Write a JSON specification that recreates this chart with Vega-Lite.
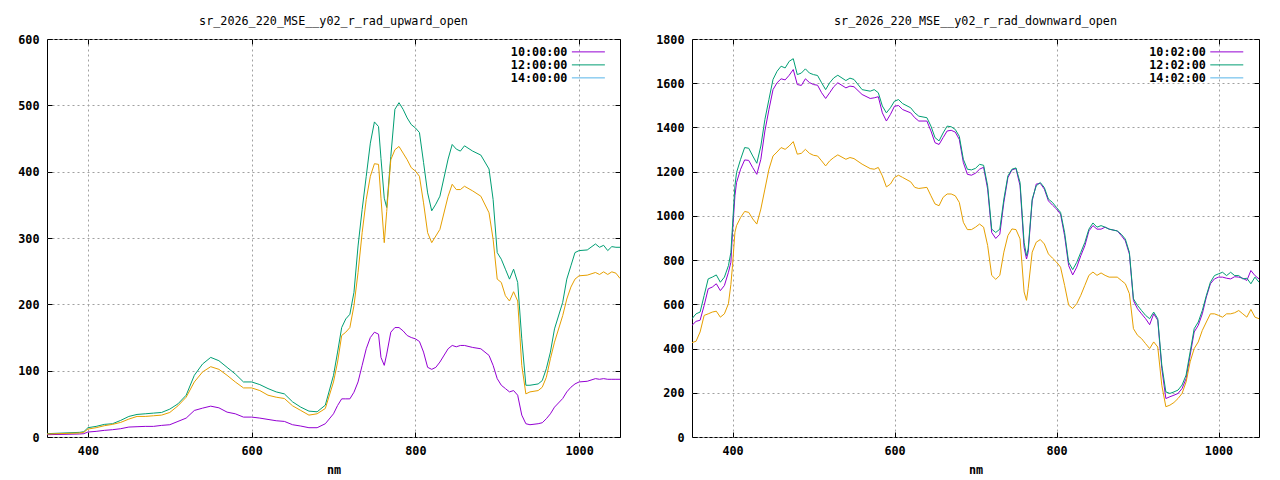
{
  "$schema": "https://vega.github.io/schema/vega-lite/v6.json",
  "padding": {"left": 17, "top": 15, "right": 5, "bottom": 4},
  "spacing": 31,
  "datasets": {
    "up": [
      {"s":"10:00:00","x":350,"y":3.5},{"s":"10:00:00","x":390,"y":4.5},{"s":"10:00:00","x":395,"y":5},{"s":"10:00:00","x":400,"y":7.5},{"s":"10:00:00","x":410,"y":8.5},{"s":"10:00:00","x":420,"y":10},{"s":"10:00:00","x":430,"y":11},{"s":"10:00:00","x":440,"y":12.5},{"s":"10:00:00","x":450,"y":15},{"s":"10:00:00","x":460,"y":15.5},{"s":"10:00:00","x":470,"y":16},{"s":"10:00:00","x":480,"y":16},{"s":"10:00:00","x":490,"y":17.5},{"s":"10:00:00","x":500,"y":18.5},{"s":"10:00:00","x":510,"y":23.5},{"s":"10:00:00","x":520,"y":28.5},{"s":"10:00:00","x":530,"y":40},{"s":"10:00:00","x":540,"y":43.5},{"s":"10:00:00","x":550,"y":46.5},{"s":"10:00:00","x":560,"y":44},{"s":"10:00:00","x":570,"y":37.5},{"s":"10:00:00","x":580,"y":35},{"s":"10:00:00","x":590,"y":30},{"s":"10:00:00","x":600,"y":30},{"s":"10:00:00","x":610,"y":28.5},{"s":"10:00:00","x":620,"y":26.5},{"s":"10:00:00","x":630,"y":24.5},{"s":"10:00:00","x":640,"y":23.5},{"s":"10:00:00","x":650,"y":18.5},{"s":"10:00:00","x":660,"y":16.5},{"s":"10:00:00","x":670,"y":14},{"s":"10:00:00","x":680,"y":14},{"s":"10:00:00","x":690,"y":20},{"s":"10:00:00","x":700,"y":35},{"s":"10:00:00","x":705,"y":47.5},{"s":"10:00:00","x":710,"y":57.5},{"s":"10:00:00","x":715,"y":57.5},{"s":"10:00:00","x":720,"y":57.5},{"s":"10:00:00","x":725,"y":67.5},{"s":"10:00:00","x":730,"y":83},{"s":"10:00:00","x":735,"y":108},{"s":"10:00:00","x":740,"y":133},{"s":"10:00:00","x":745,"y":150},{"s":"10:00:00","x":750,"y":158},{"s":"10:00:00","x":755,"y":155},{"s":"10:00:00","x":758,"y":120},{"s":"10:00:00","x":762,"y":108},{"s":"10:00:00","x":765,"y":125},{"s":"10:00:00","x":770,"y":158},{"s":"10:00:00","x":775,"y":165},{"s":"10:00:00","x":780,"y":165},{"s":"10:00:00","x":785,"y":160},{"s":"10:00:00","x":790,"y":153},{"s":"10:00:00","x":795,"y":150},{"s":"10:00:00","x":800,"y":148},{"s":"10:00:00","x":805,"y":144},{"s":"10:00:00","x":810,"y":128},{"s":"10:00:00","x":815,"y":105},{"s":"10:00:00","x":820,"y":102},{"s":"10:00:00","x":825,"y":105},{"s":"10:00:00","x":830,"y":113},{"s":"10:00:00","x":840,"y":133},{"s":"10:00:00","x":845,"y":138},{"s":"10:00:00","x":850,"y":136},{"s":"10:00:00","x":855,"y":138},{"s":"10:00:00","x":860,"y":138},{"s":"10:00:00","x":870,"y":135},{"s":"10:00:00","x":880,"y":133},{"s":"10:00:00","x":890,"y":123},{"s":"10:00:00","x":895,"y":108},{"s":"10:00:00","x":900,"y":88},{"s":"10:00:00","x":905,"y":78},{"s":"10:00:00","x":910,"y":73},{"s":"10:00:00","x":915,"y":68},{"s":"10:00:00","x":920,"y":70},{"s":"10:00:00","x":925,"y":63},{"s":"10:00:00","x":930,"y":33},{"s":"10:00:00","x":935,"y":20},{"s":"10:00:00","x":940,"y":18.5},{"s":"10:00:00","x":950,"y":20},{"s":"10:00:00","x":955,"y":21.5},{"s":"10:00:00","x":960,"y":27.5},{"s":"10:00:00","x":965,"y":35},{"s":"10:00:00","x":970,"y":45},{"s":"10:00:00","x":980,"y":58},{"s":"10:00:00","x":985,"y":68},{"s":"10:00:00","x":990,"y":75},{"s":"10:00:00","x":995,"y":80},{"s":"10:00:00","x":1000,"y":83},{"s":"10:00:00","x":1010,"y":84},{"s":"10:00:00","x":1020,"y":88},{"s":"10:00:00","x":1025,"y":87},{"s":"10:00:00","x":1030,"y":88},{"s":"10:00:00","x":1035,"y":87},{"s":"10:00:00","x":1040,"y":87},{"s":"10:00:00","x":1045,"y":87},{"s":"10:00:00","x":1050,"y":87},
      {"s":"12:00:00","x":350,"y":5},{"s":"12:00:00","x":390,"y":7},{"s":"12:00:00","x":395,"y":8},{"s":"12:00:00","x":400,"y":14},{"s":"12:00:00","x":410,"y":16},{"s":"12:00:00","x":420,"y":19},{"s":"12:00:00","x":430,"y":20},{"s":"12:00:00","x":440,"y":25},{"s":"12:00:00","x":450,"y":31},{"s":"12:00:00","x":460,"y":34},{"s":"12:00:00","x":470,"y":35},{"s":"12:00:00","x":480,"y":36},{"s":"12:00:00","x":490,"y":37},{"s":"12:00:00","x":500,"y":42},{"s":"12:00:00","x":510,"y":50},{"s":"12:00:00","x":520,"y":63},{"s":"12:00:00","x":530,"y":93},{"s":"12:00:00","x":540,"y":110},{"s":"12:00:00","x":550,"y":120},{"s":"12:00:00","x":560,"y":115},{"s":"12:00:00","x":570,"y":105},{"s":"12:00:00","x":580,"y":95},{"s":"12:00:00","x":590,"y":83},{"s":"12:00:00","x":600,"y":83},{"s":"12:00:00","x":610,"y":79},{"s":"12:00:00","x":620,"y":73},{"s":"12:00:00","x":630,"y":68},{"s":"12:00:00","x":640,"y":65},{"s":"12:00:00","x":650,"y":53},{"s":"12:00:00","x":660,"y":45},{"s":"12:00:00","x":670,"y":39},{"s":"12:00:00","x":680,"y":38},{"s":"12:00:00","x":690,"y":48},{"s":"12:00:00","x":700,"y":93},{"s":"12:00:00","x":705,"y":128},{"s":"12:00:00","x":710,"y":165},{"s":"12:00:00","x":715,"y":178},{"s":"12:00:00","x":720,"y":185},{"s":"12:00:00","x":725,"y":218},{"s":"12:00:00","x":730,"y":288},{"s":"12:00:00","x":735,"y":343},{"s":"12:00:00","x":740,"y":393},{"s":"12:00:00","x":745,"y":443},{"s":"12:00:00","x":750,"y":475},{"s":"12:00:00","x":755,"y":468},{"s":"12:00:00","x":758,"y":420},{"s":"12:00:00","x":762,"y":360},{"s":"12:00:00","x":765,"y":346},{"s":"12:00:00","x":770,"y":423},{"s":"12:00:00","x":775,"y":494},{"s":"12:00:00","x":780,"y":504},{"s":"12:00:00","x":785,"y":494},{"s":"12:00:00","x":790,"y":481},{"s":"12:00:00","x":795,"y":471},{"s":"12:00:00","x":800,"y":466},{"s":"12:00:00","x":805,"y":459},{"s":"12:00:00","x":810,"y":414},{"s":"12:00:00","x":815,"y":368},{"s":"12:00:00","x":820,"y":341},{"s":"12:00:00","x":825,"y":351},{"s":"12:00:00","x":830,"y":363},{"s":"12:00:00","x":840,"y":419},{"s":"12:00:00","x":845,"y":441},{"s":"12:00:00","x":850,"y":434},{"s":"12:00:00","x":855,"y":431},{"s":"12:00:00","x":860,"y":439},{"s":"12:00:00","x":870,"y":431},{"s":"12:00:00","x":880,"y":425},{"s":"12:00:00","x":890,"y":404},{"s":"12:00:00","x":895,"y":358},{"s":"12:00:00","x":900,"y":278},{"s":"12:00:00","x":905,"y":268},{"s":"12:00:00","x":910,"y":253},{"s":"12:00:00","x":915,"y":238},{"s":"12:00:00","x":920,"y":253},{"s":"12:00:00","x":925,"y":233},{"s":"12:00:00","x":930,"y":148},{"s":"12:00:00","x":935,"y":78},{"s":"12:00:00","x":940,"y":78},{"s":"12:00:00","x":950,"y":80},{"s":"12:00:00","x":955,"y":85},{"s":"12:00:00","x":960,"y":103},{"s":"12:00:00","x":965,"y":128},{"s":"12:00:00","x":970,"y":163},{"s":"12:00:00","x":980,"y":203},{"s":"12:00:00","x":985,"y":238},{"s":"12:00:00","x":990,"y":258},{"s":"12:00:00","x":995,"y":278},{"s":"12:00:00","x":1000,"y":281},{"s":"12:00:00","x":1010,"y":282},{"s":"12:00:00","x":1020,"y":291},{"s":"12:00:00","x":1025,"y":286},{"s":"12:00:00","x":1030,"y":289},{"s":"12:00:00","x":1035,"y":281},{"s":"12:00:00","x":1040,"y":287},{"s":"12:00:00","x":1045,"y":286},{"s":"12:00:00","x":1050,"y":286},
      {"s":"4","x":350,"y":4.5},{"s":"4","x":390,"y":6},{"s":"4","x":395,"y":7},{"s":"4","x":400,"y":12},{"s":"4","x":410,"y":14},{"s":"4","x":420,"y":17},{"s":"4","x":430,"y":19},{"s":"4","x":440,"y":22},{"s":"4","x":450,"y":27},{"s":"4","x":460,"y":31},{"s":"4","x":470,"y":31},{"s":"4","x":480,"y":32},{"s":"4","x":490,"y":33},{"s":"4","x":500,"y":37},{"s":"4","x":510,"y":47},{"s":"4","x":520,"y":60},{"s":"4","x":530,"y":83},{"s":"4","x":540,"y":98},{"s":"4","x":550,"y":106},{"s":"4","x":560,"y":102},{"s":"4","x":570,"y":93},{"s":"4","x":580,"y":83},{"s":"4","x":590,"y":74},{"s":"4","x":600,"y":74},{"s":"4","x":610,"y":70},{"s":"4","x":620,"y":63},{"s":"4","x":630,"y":60},{"s":"4","x":640,"y":58},{"s":"4","x":650,"y":47},{"s":"4","x":660,"y":40},{"s":"4","x":670,"y":33},{"s":"4","x":680,"y":35},{"s":"4","x":690,"y":43},{"s":"4","x":700,"y":83},{"s":"4","x":705,"y":113},{"s":"4","x":710,"y":153},{"s":"4","x":715,"y":158},{"s":"4","x":720,"y":165},{"s":"4","x":725,"y":198},{"s":"4","x":730,"y":248},{"s":"4","x":735,"y":308},{"s":"4","x":740,"y":358},{"s":"4","x":745,"y":393},{"s":"4","x":750,"y":412},{"s":"4","x":755,"y":411},{"s":"4","x":758,"y":360},{"s":"4","x":762,"y":293},{"s":"4","x":765,"y":340},{"s":"4","x":770,"y":418},{"s":"4","x":775,"y":433},{"s":"4","x":780,"y":438},{"s":"4","x":785,"y":428},{"s":"4","x":790,"y":418},{"s":"4","x":795,"y":406},{"s":"4","x":800,"y":401},{"s":"4","x":805,"y":393},{"s":"4","x":810,"y":353},{"s":"4","x":815,"y":308},{"s":"4","x":820,"y":293},{"s":"4","x":825,"y":303},{"s":"4","x":830,"y":313},{"s":"4","x":840,"y":363},{"s":"4","x":845,"y":381},{"s":"4","x":850,"y":373},{"s":"4","x":855,"y":373},{"s":"4","x":860,"y":378},{"s":"4","x":870,"y":371},{"s":"4","x":880,"y":363},{"s":"4","x":890,"y":338},{"s":"4","x":895,"y":298},{"s":"4","x":900,"y":238},{"s":"4","x":905,"y":233},{"s":"4","x":910,"y":213},{"s":"4","x":915,"y":205},{"s":"4","x":920,"y":219},{"s":"4","x":925,"y":205},{"s":"4","x":930,"y":108},{"s":"4","x":935,"y":65},{"s":"4","x":940,"y":68},{"s":"4","x":950,"y":70},{"s":"4","x":955,"y":75},{"s":"4","x":960,"y":90},{"s":"4","x":965,"y":118},{"s":"4","x":970,"y":143},{"s":"4","x":980,"y":183},{"s":"4","x":985,"y":208},{"s":"4","x":990,"y":226},{"s":"4","x":995,"y":238},{"s":"4","x":1000,"y":243},{"s":"4","x":1010,"y":244},{"s":"4","x":1020,"y":248},{"s":"4","x":1025,"y":245},{"s":"4","x":1030,"y":249},{"s":"4","x":1035,"y":245},{"s":"4","x":1040,"y":249},{"s":"4","x":1045,"y":247},{"s":"4","x":1050,"y":239}
    ],
    "down": [
      {"s":"10:02:00","x":350,"y":505},{"s":"10:02:00","x":355,"y":523},{"s":"10:02:00","x":360,"y":528},{"s":"10:02:00","x":365,"y":595},{"s":"10:02:00","x":370,"y":670},{"s":"10:02:00","x":375,"y":678},{"s":"10:02:00","x":380,"y":693},{"s":"10:02:00","x":385,"y":662},{"s":"10:02:00","x":390,"y":685},{"s":"10:02:00","x":395,"y":745},{"s":"10:02:00","x":398,"y":790},{"s":"10:02:00","x":400,"y":925},{"s":"10:02:00","x":403,"y":1091},{"s":"10:02:00","x":405,"y":1151},{"s":"10:02:00","x":410,"y":1211},{"s":"10:02:00","x":415,"y":1253},{"s":"10:02:00","x":420,"y":1251},{"s":"10:02:00","x":425,"y":1218},{"s":"10:02:00","x":430,"y":1188},{"s":"10:02:00","x":435,"y":1256},{"s":"10:02:00","x":440,"y":1384},{"s":"10:02:00","x":445,"y":1481},{"s":"10:02:00","x":450,"y":1571},{"s":"10:02:00","x":455,"y":1602},{"s":"10:02:00","x":460,"y":1620},{"s":"10:02:00","x":465,"y":1615},{"s":"10:02:00","x":470,"y":1636},{"s":"10:02:00","x":475,"y":1662},{"s":"10:02:00","x":480,"y":1594},{"s":"10:02:00","x":485,"y":1590},{"s":"10:02:00","x":490,"y":1620},{"s":"10:02:00","x":495,"y":1603},{"s":"10:02:00","x":500,"y":1594},{"s":"10:02:00","x":505,"y":1591},{"s":"10:02:00","x":510,"y":1557},{"s":"10:02:00","x":515,"y":1531},{"s":"10:02:00","x":520,"y":1557},{"s":"10:02:00","x":525,"y":1584},{"s":"10:02:00","x":530,"y":1602},{"s":"10:02:00","x":540,"y":1579},{"s":"10:02:00","x":545,"y":1587},{"s":"10:02:00","x":550,"y":1584},{"s":"10:02:00","x":560,"y":1549},{"s":"10:02:00","x":570,"y":1531},{"s":"10:02:00","x":575,"y":1534},{"s":"10:02:00","x":580,"y":1539},{"s":"10:02:00","x":585,"y":1466},{"s":"10:02:00","x":590,"y":1429},{"s":"10:02:00","x":595,"y":1459},{"s":"10:02:00","x":600,"y":1496},{"s":"10:02:00","x":605,"y":1499},{"s":"10:02:00","x":610,"y":1481},{"s":"10:02:00","x":620,"y":1466},{"s":"10:02:00","x":625,"y":1444},{"s":"10:02:00","x":630,"y":1429},{"s":"10:02:00","x":640,"y":1429},{"s":"10:02:00","x":645,"y":1384},{"s":"10:02:00","x":650,"y":1331},{"s":"10:02:00","x":655,"y":1323},{"s":"10:02:00","x":660,"y":1354},{"s":"10:02:00","x":665,"y":1384},{"s":"10:02:00","x":670,"y":1387},{"s":"10:02:00","x":675,"y":1379},{"s":"10:02:00","x":680,"y":1346},{"s":"10:02:00","x":685,"y":1241},{"s":"10:02:00","x":690,"y":1188},{"s":"10:02:00","x":695,"y":1184},{"s":"10:02:00","x":700,"y":1193},{"s":"10:02:00","x":705,"y":1211},{"s":"10:02:00","x":710,"y":1220},{"s":"10:02:00","x":715,"y":1121},{"s":"10:02:00","x":720,"y":925},{"s":"10:02:00","x":725,"y":898},{"s":"10:02:00","x":730,"y":917},{"s":"10:02:00","x":735,"y":1061},{"s":"10:02:00","x":740,"y":1173},{"s":"10:02:00","x":745,"y":1208},{"s":"10:02:00","x":750,"y":1214},{"s":"10:02:00","x":755,"y":1136},{"s":"10:02:00","x":760,"y":857},{"s":"10:02:00","x":763,"y":805},{"s":"10:02:00","x":765,"y":835},{"s":"10:02:00","x":770,"y":1068},{"s":"10:02:00","x":775,"y":1144},{"s":"10:02:00","x":780,"y":1147},{"s":"10:02:00","x":785,"y":1121},{"s":"10:02:00","x":790,"y":1068},{"s":"10:02:00","x":795,"y":1049},{"s":"10:02:00","x":800,"y":1031},{"s":"10:02:00","x":805,"y":1008},{"s":"10:02:00","x":810,"y":910},{"s":"10:02:00","x":815,"y":775},{"s":"10:02:00","x":820,"y":733},{"s":"10:02:00","x":825,"y":768},{"s":"10:02:00","x":830,"y":820},{"s":"10:02:00","x":835,"y":865},{"s":"10:02:00","x":840,"y":932},{"s":"10:02:00","x":845,"y":956},{"s":"10:02:00","x":850,"y":940},{"s":"10:02:00","x":855,"y":940},{"s":"10:02:00","x":860,"y":949},{"s":"10:02:00","x":865,"y":940},{"s":"10:02:00","x":875,"y":932},{"s":"10:02:00","x":880,"y":911},{"s":"10:02:00","x":885,"y":887},{"s":"10:02:00","x":890,"y":827},{"s":"10:02:00","x":895,"y":617},{"s":"10:02:00","x":900,"y":580},{"s":"10:02:00","x":905,"y":557},{"s":"10:02:00","x":910,"y":535},{"s":"10:02:00","x":915,"y":508},{"s":"10:02:00","x":920,"y":557},{"s":"10:02:00","x":925,"y":528},{"s":"10:02:00","x":930,"y":310},{"s":"10:02:00","x":935,"y":174},{"s":"10:02:00","x":940,"y":182},{"s":"10:02:00","x":945,"y":189},{"s":"10:02:00","x":950,"y":197},{"s":"10:02:00","x":955,"y":219},{"s":"10:02:00","x":960,"y":264},{"s":"10:02:00","x":965,"y":370},{"s":"10:02:00","x":970,"y":475},{"s":"10:02:00","x":975,"y":505},{"s":"10:02:00","x":980,"y":557},{"s":"10:02:00","x":985,"y":633},{"s":"10:02:00","x":990,"y":693},{"s":"10:02:00","x":995,"y":715},{"s":"10:02:00","x":1000,"y":723},{"s":"10:02:00","x":1005,"y":723},{"s":"10:02:00","x":1010,"y":718},{"s":"10:02:00","x":1015,"y":715},{"s":"10:02:00","x":1020,"y":725},{"s":"10:02:00","x":1025,"y":723},{"s":"10:02:00","x":1030,"y":718},{"s":"10:02:00","x":1035,"y":708},{"s":"10:02:00","x":1040,"y":753},{"s":"10:02:00","x":1045,"y":730},{"s":"10:02:00","x":1050,"y":715},
      {"s":"12:02:00","x":350,"y":535},{"s":"12:02:00","x":355,"y":557},{"s":"12:02:00","x":360,"y":565},{"s":"12:02:00","x":365,"y":640},{"s":"12:02:00","x":370,"y":715},{"s":"12:02:00","x":375,"y":723},{"s":"12:02:00","x":380,"y":733},{"s":"12:02:00","x":385,"y":700},{"s":"12:02:00","x":390,"y":723},{"s":"12:02:00","x":395,"y":775},{"s":"12:02:00","x":398,"y":835},{"s":"12:02:00","x":400,"y":955},{"s":"12:02:00","x":403,"y":1136},{"s":"12:02:00","x":405,"y":1196},{"s":"12:02:00","x":410,"y":1256},{"s":"12:02:00","x":415,"y":1309},{"s":"12:02:00","x":420,"y":1306},{"s":"12:02:00","x":425,"y":1271},{"s":"12:02:00","x":430,"y":1238},{"s":"12:02:00","x":435,"y":1316},{"s":"12:02:00","x":440,"y":1436},{"s":"12:02:00","x":445,"y":1527},{"s":"12:02:00","x":450,"y":1617},{"s":"12:02:00","x":455,"y":1654},{"s":"12:02:00","x":460,"y":1677},{"s":"12:02:00","x":465,"y":1669},{"s":"12:02:00","x":470,"y":1699},{"s":"12:02:00","x":475,"y":1711},{"s":"12:02:00","x":480,"y":1639},{"s":"12:02:00","x":485,"y":1646},{"s":"12:02:00","x":490,"y":1665},{"s":"12:02:00","x":495,"y":1646},{"s":"12:02:00","x":500,"y":1639},{"s":"12:02:00","x":505,"y":1635},{"s":"12:02:00","x":510,"y":1602},{"s":"12:02:00","x":515,"y":1571},{"s":"12:02:00","x":520,"y":1602},{"s":"12:02:00","x":525,"y":1624},{"s":"12:02:00","x":530,"y":1636},{"s":"12:02:00","x":540,"y":1612},{"s":"12:02:00","x":545,"y":1623},{"s":"12:02:00","x":550,"y":1617},{"s":"12:02:00","x":560,"y":1571},{"s":"12:02:00","x":570,"y":1564},{"s":"12:02:00","x":575,"y":1571},{"s":"12:02:00","x":580,"y":1557},{"s":"12:02:00","x":585,"y":1497},{"s":"12:02:00","x":590,"y":1466},{"s":"12:02:00","x":595,"y":1489},{"s":"12:02:00","x":600,"y":1519},{"s":"12:02:00","x":605,"y":1526},{"s":"12:02:00","x":610,"y":1508},{"s":"12:02:00","x":620,"y":1489},{"s":"12:02:00","x":625,"y":1466},{"s":"12:02:00","x":630,"y":1451},{"s":"12:02:00","x":640,"y":1444},{"s":"12:02:00","x":645,"y":1406},{"s":"12:02:00","x":650,"y":1354},{"s":"12:02:00","x":655,"y":1339},{"s":"12:02:00","x":660,"y":1375},{"s":"12:02:00","x":665,"y":1406},{"s":"12:02:00","x":670,"y":1403},{"s":"12:02:00","x":675,"y":1391},{"s":"12:02:00","x":680,"y":1360},{"s":"12:02:00","x":685,"y":1256},{"s":"12:02:00","x":690,"y":1211},{"s":"12:02:00","x":695,"y":1208},{"s":"12:02:00","x":700,"y":1215},{"s":"12:02:00","x":705,"y":1233},{"s":"12:02:00","x":710,"y":1229},{"s":"12:02:00","x":715,"y":1136},{"s":"12:02:00","x":720,"y":940},{"s":"12:02:00","x":725,"y":925},{"s":"12:02:00","x":730,"y":940},{"s":"12:02:00","x":735,"y":1076},{"s":"12:02:00","x":740,"y":1181},{"s":"12:02:00","x":745,"y":1211},{"s":"12:02:00","x":750,"y":1217},{"s":"12:02:00","x":755,"y":1151},{"s":"12:02:00","x":760,"y":880},{"s":"12:02:00","x":763,"y":820},{"s":"12:02:00","x":765,"y":850},{"s":"12:02:00","x":770,"y":1076},{"s":"12:02:00","x":775,"y":1136},{"s":"12:02:00","x":780,"y":1151},{"s":"12:02:00","x":785,"y":1128},{"s":"12:02:00","x":790,"y":1076},{"s":"12:02:00","x":795,"y":1061},{"s":"12:02:00","x":800,"y":1038},{"s":"12:02:00","x":805,"y":1016},{"s":"12:02:00","x":810,"y":925},{"s":"12:02:00","x":815,"y":790},{"s":"12:02:00","x":820,"y":757},{"s":"12:02:00","x":825,"y":790},{"s":"12:02:00","x":830,"y":835},{"s":"12:02:00","x":835,"y":880},{"s":"12:02:00","x":840,"y":940},{"s":"12:02:00","x":845,"y":968},{"s":"12:02:00","x":850,"y":949},{"s":"12:02:00","x":855,"y":956},{"s":"12:02:00","x":860,"y":949},{"s":"12:02:00","x":865,"y":940},{"s":"12:02:00","x":875,"y":932},{"s":"12:02:00","x":880,"y":917},{"s":"12:02:00","x":885,"y":895},{"s":"12:02:00","x":890,"y":835},{"s":"12:02:00","x":895,"y":625},{"s":"12:02:00","x":900,"y":595},{"s":"12:02:00","x":905,"y":572},{"s":"12:02:00","x":910,"y":550},{"s":"12:02:00","x":915,"y":535},{"s":"12:02:00","x":920,"y":565},{"s":"12:02:00","x":925,"y":535},{"s":"12:02:00","x":930,"y":325},{"s":"12:02:00","x":935,"y":204},{"s":"12:02:00","x":940,"y":197},{"s":"12:02:00","x":945,"y":204},{"s":"12:02:00","x":950,"y":212},{"s":"12:02:00","x":955,"y":235},{"s":"12:02:00","x":960,"y":280},{"s":"12:02:00","x":965,"y":385},{"s":"12:02:00","x":970,"y":490},{"s":"12:02:00","x":975,"y":520},{"s":"12:02:00","x":980,"y":572},{"s":"12:02:00","x":985,"y":640},{"s":"12:02:00","x":990,"y":700},{"s":"12:02:00","x":995,"y":730},{"s":"12:02:00","x":1000,"y":738},{"s":"12:02:00","x":1005,"y":745},{"s":"12:02:00","x":1010,"y":730},{"s":"12:02:00","x":1015,"y":745},{"s":"12:02:00","x":1020,"y":730},{"s":"12:02:00","x":1025,"y":730},{"s":"12:02:00","x":1030,"y":715},{"s":"12:02:00","x":1035,"y":718},{"s":"12:02:00","x":1040,"y":693},{"s":"12:02:00","x":1045,"y":723},{"s":"12:02:00","x":1050,"y":700},
      {"s":"4","x":350,"y":427},{"s":"4","x":355,"y":433},{"s":"4","x":360,"y":475},{"s":"4","x":365,"y":550},{"s":"4","x":370,"y":557},{"s":"4","x":375,"y":565},{"s":"4","x":380,"y":569},{"s":"4","x":385,"y":542},{"s":"4","x":390,"y":557},{"s":"4","x":395,"y":603},{"s":"4","x":398,"y":690},{"s":"4","x":400,"y":775},{"s":"4","x":403,"y":926},{"s":"4","x":405,"y":956},{"s":"4","x":410,"y":993},{"s":"4","x":415,"y":1020},{"s":"4","x":420,"y":1016},{"s":"4","x":425,"y":986},{"s":"4","x":430,"y":963},{"s":"4","x":435,"y":1031},{"s":"4","x":440,"y":1121},{"s":"4","x":445,"y":1211},{"s":"4","x":450,"y":1271},{"s":"4","x":455,"y":1289},{"s":"4","x":460,"y":1309},{"s":"4","x":465,"y":1301},{"s":"4","x":470,"y":1316},{"s":"4","x":475,"y":1336},{"s":"4","x":480,"y":1279},{"s":"4","x":485,"y":1283},{"s":"4","x":490,"y":1301},{"s":"4","x":495,"y":1283},{"s":"4","x":500,"y":1274},{"s":"4","x":505,"y":1271},{"s":"4","x":510,"y":1249},{"s":"4","x":515,"y":1226},{"s":"4","x":520,"y":1249},{"s":"4","x":525,"y":1264},{"s":"4","x":530,"y":1276},{"s":"4","x":540,"y":1256},{"s":"4","x":545,"y":1264},{"s":"4","x":550,"y":1259},{"s":"4","x":560,"y":1234},{"s":"4","x":570,"y":1214},{"s":"4","x":575,"y":1211},{"s":"4","x":580,"y":1219},{"s":"4","x":585,"y":1181},{"s":"4","x":590,"y":1131},{"s":"4","x":595,"y":1144},{"s":"4","x":600,"y":1174},{"s":"4","x":605,"y":1184},{"s":"4","x":610,"y":1174},{"s":"4","x":620,"y":1154},{"s":"4","x":625,"y":1129},{"s":"4","x":630,"y":1124},{"s":"4","x":640,"y":1129},{"s":"4","x":645,"y":1091},{"s":"4","x":650,"y":1054},{"s":"4","x":655,"y":1046},{"s":"4","x":660,"y":1084},{"s":"4","x":665,"y":1099},{"s":"4","x":670,"y":1099},{"s":"4","x":675,"y":1091},{"s":"4","x":680,"y":1061},{"s":"4","x":685,"y":971},{"s":"4","x":690,"y":938},{"s":"4","x":695,"y":938},{"s":"4","x":700,"y":949},{"s":"4","x":705,"y":963},{"s":"4","x":710,"y":949},{"s":"4","x":715,"y":866},{"s":"4","x":720,"y":731},{"s":"4","x":725,"y":713},{"s":"4","x":730,"y":731},{"s":"4","x":735,"y":836},{"s":"4","x":740,"y":911},{"s":"4","x":745,"y":941},{"s":"4","x":750,"y":938},{"s":"4","x":755,"y":896},{"s":"4","x":760,"y":656},{"s":"4","x":763,"y":618},{"s":"4","x":765,"y":671},{"s":"4","x":770,"y":836},{"s":"4","x":775,"y":881},{"s":"4","x":780,"y":893},{"s":"4","x":785,"y":873},{"s":"4","x":790,"y":828},{"s":"4","x":795,"y":809},{"s":"4","x":800,"y":791},{"s":"4","x":805,"y":768},{"s":"4","x":810,"y":686},{"s":"4","x":815,"y":596},{"s":"4","x":820,"y":581},{"s":"4","x":825,"y":603},{"s":"4","x":830,"y":641},{"s":"4","x":835,"y":686},{"s":"4","x":840,"y":731},{"s":"4","x":845,"y":746},{"s":"4","x":850,"y":731},{"s":"4","x":855,"y":742},{"s":"4","x":860,"y":731},{"s":"4","x":865,"y":723},{"s":"4","x":875,"y":723},{"s":"4","x":880,"y":708},{"s":"4","x":885,"y":693},{"s":"4","x":890,"y":648},{"s":"4","x":895,"y":490},{"s":"4","x":900,"y":460},{"s":"4","x":905,"y":445},{"s":"4","x":910,"y":422},{"s":"4","x":915,"y":400},{"s":"4","x":920,"y":430},{"s":"4","x":925,"y":407},{"s":"4","x":930,"y":234},{"s":"4","x":935,"y":137},{"s":"4","x":940,"y":144},{"s":"4","x":945,"y":156},{"s":"4","x":950,"y":174},{"s":"4","x":955,"y":197},{"s":"4","x":960,"y":249},{"s":"4","x":965,"y":340},{"s":"4","x":970,"y":400},{"s":"4","x":975,"y":430},{"s":"4","x":980,"y":482},{"s":"4","x":985,"y":520},{"s":"4","x":990,"y":557},{"s":"4","x":995,"y":557},{"s":"4","x":1000,"y":550},{"s":"4","x":1005,"y":542},{"s":"4","x":1010,"y":557},{"s":"4","x":1015,"y":557},{"s":"4","x":1020,"y":562},{"s":"4","x":1025,"y":572},{"s":"4","x":1030,"y":557},{"s":"4","x":1035,"y":542},{"s":"4","x":1040,"y":577},{"s":"4","x":1045,"y":542},{"s":"4","x":1050,"y":535}
    ]
  },
  "hconcat": [
    {
      "data": {"name": "up"},
      "width": 573,
      "height": 398,
      "title": "sr_2026_220_MSE__y02_r_rad_upward_open",
      "resolve": {"axis": {"x": "independent", "y": "independent"}},
      "layer": [
        {
          "mark": {"type": "line", "strokeWidth": 1, "clip": true},
          "encoding": {
            "x": {
              "field": "x", "type": "quantitative", "title": "nm",
              "scale": {"domain": [350, 1050], "nice": false, "zero": false},
              "axis": {"orient": "bottom", "values": [400, 600, 800, 1000]}
            },
            "y": {
              "field": "y", "type": "quantitative", "title": null,
              "scale": {"domain": [0, 600], "nice": false},
              "axis": {"orient": "left", "values": [0, 100, 200, 300, 400, 500, 600]}
            },
            "color": {
              "field": "s", "type": "nominal",
              "scale": {
                "domain": ["10:00:00", "12:00:00", "14:00:00", "4"],
                "range": ["#9400d3", "#009e73", "#56b4e9", "#e69f00"]
              },
              "legend": {"values": ["10:00:00", "12:00:00", "14:00:00"], "legendX": 552}
            }
          }
        },
        {
          "mark": {"type": "point", "opacity": 0},
          "encoding": {
            "x": {
              "field": "x", "type": "quantitative", "title": null,
              "scale": {"domain": [350, 1050], "nice": false, "zero": false},
              "axis": {"orient": "top", "values": [400, 600, 800, 1000], "labels": false, "grid": false, "minExtent": 0, "maxExtent": 0}
            },
            "y": {
              "field": "y", "type": "quantitative", "title": null,
              "scale": {"domain": [0, 600], "nice": false},
              "axis": {"orient": "right", "values": [0, 100, 200, 300, 400, 500, 600], "labels": false, "grid": false, "minExtent": 0, "maxExtent": 0}
            }
          }
        }
      ]
    },
    {
      "data": {"name": "down"},
      "width": 567,
      "height": 398,
      "title": "sr_2026_220_MSE__y02_r_rad_downward_open",
      "resolve": {"axis": {"x": "independent", "y": "independent"}},
      "layer": [
        {
          "mark": {"type": "line", "strokeWidth": 1, "clip": true},
          "encoding": {
            "x": {
              "field": "x", "type": "quantitative", "title": "nm",
              "scale": {"domain": [350, 1050], "nice": false, "zero": false},
              "axis": {"orient": "bottom", "values": [400, 600, 800, 1000]}
            },
            "y": {
              "field": "y", "type": "quantitative", "title": null,
              "scale": {"domain": [0, 1800], "nice": false},
              "axis": {"orient": "left", "values": [0, 200, 400, 600, 800, 1000, 1200, 1400, 1600, 1800]}
            },
            "color": {
              "field": "s", "type": "nominal",
              "scale": {
                "domain": ["10:02:00", "12:02:00", "14:02:00", "4"],
                "range": ["#9400d3", "#009e73", "#56b4e9", "#e69f00"]
              },
              "legend": {"values": ["10:02:00", "12:02:00", "14:02:00"], "legendX": 545.4}
            }
          }
        },
        {
          "mark": {"type": "point", "opacity": 0},
          "encoding": {
            "x": {
              "field": "x", "type": "quantitative", "title": null,
              "scale": {"domain": [350, 1050], "nice": false, "zero": false},
              "axis": {"orient": "top", "values": [400, 600, 800, 1000], "labels": false, "grid": false, "minExtent": 0, "maxExtent": 0}
            },
            "y": {
              "field": "y", "type": "quantitative", "title": null,
              "scale": {"domain": [0, 1800], "nice": false},
              "axis": {"orient": "right", "values": [0, 200, 400, 600, 800, 1000, 1200, 1400, 1600, 1800], "labels": false, "grid": false, "minExtent": 0, "maxExtent": 0}
            }
          }
        }
      ]
    }
  ],
  "resolve": {"scale": {"color": "independent", "x": "independent", "y": "independent"}, "legend": {"color": "independent"}},
  "config": {
    "font": "DejaVu Sans Mono",
    "view": {"stroke": "#000000", "strokeWidth": 1},
    "title": {"font": "DejaVu Sans Mono", "fontSize": 11.75, "fontWeight": "normal", "color": "#000000", "offset": 6},
    "axis": {
      "domain": false,
      "grid": true,
      "gridColor": "#a0a0a0",
      "gridDash": [2, 3],
      "gridOpacity": 1,
      "ticks": true,
      "tickSize": -5,
      "tickColor": "#000000",
      "labelPadding": 13,
      "format": "d",
      "labelFont": "DejaVu Sans Mono",
      "labelFontSize": 11.75,
      "labelFontWeight": "bold",
      "labelColor": "#000000",
      "titleFont": "DejaVu Sans Mono",
      "titleFontSize": 11.75,
      "titleFontWeight": "bold",
      "titleColor": "#000000",
      "titlePadding": 7.5
    },
    "legend": {
      "orient": "none",
      "legendY": 7,
      "title": null,
      "padding": 0,
      "symbolType": "M-10,0H0",
      "symbolSize": 43.56,
      "symbolStrokeWidth": 1,
      "symbolOffset": 0,
      "labelAlign": "right",
      "labelOffset": -43.3,
      "labelFont": "DejaVu Sans Mono",
      "labelFontSize": 11.75,
      "labelFontWeight": "bold",
      "labelColor": "#000000",
      "rowPadding": 0
    }
  }
}
